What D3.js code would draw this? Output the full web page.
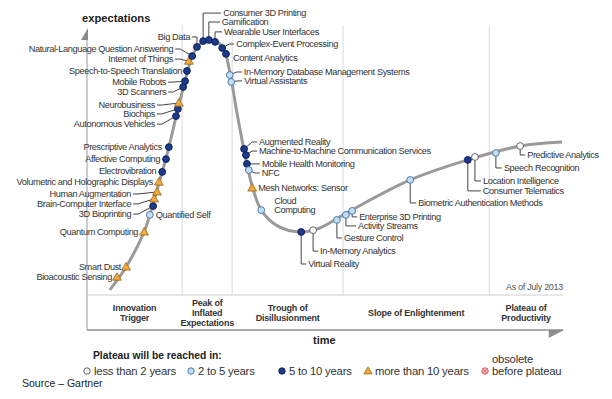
<!DOCTYPE html>
<html>
<head>
<meta charset="utf-8">
<script src="https://cdn.jsdelivr.net/npm/d3@7"></script>
<style>
  body { margin: 0; background: #fff; }
  svg { display: block; font-family: "Liberation Sans", Arial, sans-serif; }
</style>
</head>
<body>
<div class="chart"></div>
<script>
const width = 612;
const height = 399;

// hype curve (time 0-100, expectations 0-100)
const curveT = [4.8, 8.2, 12.0, 14.1, 15.8, 17.2, 19.1, 20.6, 22.1, 23.7, 25.6, 27.3, 28.8, 30.0, 31.7, 33.2, 34.7, 36.6, 40.1, 45.0, 48.9, 55.3, 67.9, 80.0, 91.0, 99.8];
const curveE = [1.9, 10.5, 23.6, 35.6, 46.1, 55.4, 69.7, 80.1, 89.5, 94.0, 95.5, 94.8, 91.8, 83.5, 66.3, 52.4, 40.8, 31.8, 25.8, 23.6, 25.1, 31.5, 43.1, 50.6, 55.8, 57.3];

const names = [
  'Bioacoustic Sensing', 'Smart Dust', 'Quantum Computing', 'Quantified Self', '3D Bioprinting',
  'Brain-Computer Interface', 'Human Augmentation', 'Volumetric and Holographic Displays', 'Electrovibration',
  'Affective Computing', 'Prescriptive Analytics', 'Autonomous Vehicles', 'Biochips', 'Neurobusiness',
  '3D Scanners', 'Mobile Robots', 'Speech-to-Speech Translation', 'Internet of Things',
  'Natural-Language Question Answering', 'Big Data', 'Consumer 3D Printing', 'Gamification',
  'Wearable User Interfaces', 'Complex-Event Processing', 'Content Analytics',
  'In-Memory Database Management Systems', 'Virtual Assistants', 'Augmented Reality',
  'Machine-to-Machine Communication Services', 'Mobile Health Monitoring', 'NFC', 'Mesh Networks: Sensor',
  'Cloud|Computing', 'Virtual Reality', 'In-Memory Analytics', 'Gesture Control', 'Activity Streams',
  'Enterprise 3D Printing', 'Biometric Authentication Methods', 'Consumer Telematics',
  'Location Intelligence', 'Speech Recognition', 'Predictive Analytics'
];
const timePos = [6.3, 8.2, 12.0, 13.2, 13.9, 14.1, 14.7, 15.1, 15.8, 16.6, 17.2, 18.7, 19.1, 19.3, 20.2, 20.6, 21.0, 21.4, 22.1, 23.1, 24.4, 25.6, 26.9, 28.4, 29.2, 30.0, 30.3, 33.0, 33.4, 33.6, 34.0, 34.7, 36.6, 45.0, 47.5, 52.5, 54.4, 55.7, 67.9, 80.0, 81.5, 85.9, 91.0];
const expectation = [6.7, 10.5, 23.6, 30.0, 33.3, 36.0, 38.6, 42.3, 46.1, 50.9, 55.4, 67.0, 69.7, 71.9, 77.9, 80.1, 83.9, 87.6, 89.5, 92.9, 95.1, 95.5, 94.8, 92.5, 90.3, 82.4, 79.8, 54.7, 52.4, 49.1, 46.8, 40.1, 31.8, 23.6, 24.3, 28.1, 30.0, 31.5, 43.1, 50.6, 51.7, 53.2, 55.8];
const horizon = ['gt10', 'gt10', 'gt10', '2to5', '5to10', 'gt10', 'gt10', 'gt10', '5to10', '5to10', '5to10', '5to10', '5to10', 'gt10', '5to10', '5to10', '5to10', 'gt10', '5to10', '5to10', '5to10', '5to10', '5to10', '5to10', '5to10', '2to5', '2to5', '5to10', '5to10', '5to10', '2to5', 'gt10', '2to5', '5to10', 'lt2', '2to5', '2to5', '2to5', '2to5', '5to10', 'lt2', '2to5', 'lt2'];

const phaseBounds = [20.0, 30.5, 53.8, 84.5];
const phaseNames = ['Innovation|Trigger', 'Peak of|Inflated|Expectations', 'Trough of|Disillusionment', 'Slope of Enlightenment', 'Plateau of|Productivity'];

const legendKeys = ['lt2', '2to5', '5to10', 'gt10', 'obs'];
const legendLabels = ['less than 2 years', '2 to 5 years', '5 to 10 years', 'more than 10 years', 'obsolete|before plateau'];

// label placement: dx, dy from the marker, anchor, leader kind
const labelLayout = [
  [-5, 0, 'end', 'none'], [-5, 0, 'end', 'none'], [-6, 0, 'end', 'none'], [6, 0, 'start', 'none'],
  [-22, 8, 'end', 'line'], [-23, 5, 'end', 'line'], [-26, 2, 'end', 'line'], [-6, 0, 'end', 'none'],
  [-6, -1, 'end', 'none'], [-6, 0, 'end', 'none'], [-7, 0, 'end', 'none'], [-21, 8, 'end', 'line'],
  [-23, 5, 'end', 'line'], [-24, 2, 'end', 'line'], [-17, 5, 'end', 'line'], [-19, 1, 'end', 'line'],
  [-5, 0, 'end', 'none'], [-16, -2, 'end', 'line'], [-19, -7, 'end', 'line'], [-7, -10, 'end', 'line'],
  [20, -28, 'start', 'up'], [13, -18, 'start', 'up'], [9, -10, 'start', 'up'], [14, -4, 'start', 'line'],
  [7, 4, 'start', 'none'], [14, -3, 'start', 'line'], [13, -1, 'start', 'line'], [15, -7, 'start', 'line'],
  [13, -4, 'start', 'line'], [15, 0, 'start', 'line'], [13, 3, 'start', 'line'], [6, 0, 'start', 'none'],
  [13, -5, 'start', 'none'], [7, 32, 'start', 'down'], [7, 21, 'start', 'down'], [7, 18, 'start', 'down'],
  [12, 11, 'start', 'down'], [7, 6, 'start', 'down'], [8, 23, 'start', 'down'], [15, 31, 'start', 'down'],
  [8, 24, 'start', 'down'], [8, 15, 'start', 'down'], [7, 9, 'start', 'down']
];

const style = {
  lt2: { fill: '#ffffff', stroke: '#666666' },
  '2to5': { fill: '#c4ddf1', stroke: '#4f7db3' },
  '5to10': { fill: '#1c3a87', stroke: '#0e2260' },
  gt10: { fill: '#f2a83a', stroke: '#96661c' },
  obs: { fill: '#f6c4cc', stroke: '#d8505e' }
};

const x = d3.scaleLinear().domain([0, 100]).range([87, 563]);
const y = d3.scaleLinear().domain([0, 100]).range([295, 28]);

const svg = d3
  .select('.chart')
  .append('svg')
  .attr('width', width)
  .attr('height', height);

// phase dividers
svg
  .selectAll('.divider')
  .data(phaseBounds)
  .enter()
  .append('line')
  .attr('x1', d => x(d))
  .attr('x2', d => x(d))
  .attr('y1', y(101))
  .attr('y2', y(0))
  .attr('stroke', '#dcdcdc')
  .attr('stroke-width', 1);

// axes
svg.append('line')
  .attr('x1', x(0)).attr('x2', x(0))
  .attr('y1', y(96)).attr('y2', y(0) + 35)
  .attr('stroke', '#bdbdbd').attr('stroke-width', 1.5);
svg.append('path')
  .attr('d', `M${x(0) + 1},${y(100)} L${x(0) + 1},${y(95.5)} L${x(0) - 6},${y(95.5)} Z`)
  .attr('fill', '#8c8c8c');
svg.append('line')
  .attr('x1', x(0)).attr('x2', x(100))
  .attr('y1', y(0)).attr('y2', y(0))
  .attr('stroke', '#cfcfcf').attr('stroke-width', 1);
svg.append('line')
  .attr('x1', x(0)).attr('x2', x(100))
  .attr('y1', y(0) + 35).attr('y2', y(0) + 35)
  .attr('stroke', '#ababab').attr('stroke-width', 2);
svg.append('path')
  .attr('d', `M${x(97)},${y(0) + 35} L${x(100) + 1},${y(0) + 35} L${x(97)},${y(0) + 43} Z`)
  .attr('fill', '#8c8c8c');

svg.append('text')
  .attr('x', 82).attr('y', 22)
  .attr('font-size', '11.2px').attr('font-weight', 'bold').attr('fill', '#222')
  .text('expectations');
svg.append('text')
  .attr('x', 313).attr('y', 344)
  .attr('font-size', '11px').attr('font-weight', 'bold').attr('fill', '#222')
  .text('time');
svg.append('text')
  .attr('x', x(100)).attr('y', 290)
  .attr('text-anchor', 'end')
  .attr('font-size', '9px').attr('letter-spacing', '-0.3px').attr('fill', '#555')
  .text('As of July 2013');

// phase names
const bounds = [0].concat(phaseBounds, [100]);
phaseNames.forEach((p, i) => {
  const lines = p.split('|');
  const cx = x((bounds[i] + bounds[i + 1]) / 2);
  const t = svg.append('text')
    .attr('text-anchor', 'middle')
    .attr('font-size', '9px').attr('font-weight', 'bold')
    .attr('letter-spacing', '-0.2px').attr('fill', '#333');
  lines.forEach((l, j) => {
    t.append('tspan')
      .attr('x', cx)
      .attr('y', 316 + (j - (lines.length - 1) / 2) * 10.3)
      .text(l);
  });
});

// hype curve
const line = d3.line()
  .x(d => x(d[0]))
  .y(d => y(d[1]))
  .curve(d3.curveCatmullRom.alpha(0.5));
svg.append('path')
  .datum(curveT.map((t, i) => [t, curveE[i]]))
  .attr('d', line)
  .attr('fill', 'none')
  .attr('stroke', '#9a9a9a')
  .attr('stroke-width', 3);

const techs = names.map((n, i) => ({
  name: n,
  px: x(timePos[i]),
  py: y(expectation[i]),
  kind: horizon[i],
  dx: labelLayout[i][0],
  dy: labelLayout[i][1],
  anchor: labelLayout[i][2],
  leader: labelLayout[i][3]
}));

// leaders
svg
  .selectAll('.leader')
  .data(techs.filter(d => d.leader !== 'none'))
  .enter()
  .append('polyline')
  .attr('fill', 'none')
  .attr('stroke', '#444')
  .attr('stroke-width', 1)
  .attr('points', d => {
    const lx = d.px + d.dx;
    const ly = d.py + d.dy;
    if (d.leader === 'line') {
      const s = d.anchor === 'end' ? 1 : -1;
      return [[lx + 2 * s, ly], [lx + 7 * s, ly], [d.px, d.py]].join(' ');
    }
    return [[d.px, d.py], [d.px, ly], [lx - 2, ly]].join(' ');
  });

function marker(sel, kind, r) {
  const s = style[kind];
  if (kind === 'gt10') {
    const k = r / 3.4;
    sel.append('path')
      .attr('d', `M0,${-4.4 * k} L${4.4 * k},${3.1 * k} L${-4.4 * k},${3.1 * k} Z`)
      .attr('fill', s.fill).attr('stroke', s.stroke).attr('stroke-width', 0.8);
  } else {
    sel.append('circle')
      .attr('r', r)
      .attr('fill', s.fill).attr('stroke', s.stroke).attr('stroke-width', 1);
    if (kind === 'obs') {
      sel.append('path')
        .attr('d', 'M-1.6,-1.6 L1.6,1.6 M-1.6,1.6 L1.6,-1.6')
        .attr('stroke', s.stroke).attr('stroke-width', 0.8);
    }
  }
}

// markers
svg
  .selectAll('.tech')
  .data(techs)
  .enter()
  .append('g')
  .attr('class', 'tech')
  .attr('transform', d => `translate(${d.px},${d.py})`)
  .each(function(d) {
    marker(d3.select(this), d.kind, 3.4);
  });

// labels
svg
  .selectAll('.label')
  .data(techs)
  .enter()
  .append('text')
  .attr('class', 'label')
  .attr('text-anchor', d => d.anchor)
  .attr('font-size', '9.2px')
  .attr('letter-spacing', '-0.38px')
  .attr('fill', '#333')
  .each(function(d) {
    const lines = d.name.split('|');
    lines.forEach((l, j) => {
      d3.select(this).append('tspan')
        .attr('x', d.px + d.dx)
        .attr('y', d.py + d.dy + 3.2 + (j - (lines.length - 1) / 2) * 9)
        .text(l);
    });
  });

// legend
svg.append('text')
  .attr('x', 93).attr('y', 359)
  .attr('font-size', '10.3px').attr('font-weight', 'bold').attr('fill', '#222')
  .text('Plateau will be reached in:');

const legendX = [87, 191, 282, 368, 485];
legendKeys.forEach((k, i) => {
  const g = svg.append('g').attr('transform', `translate(${legendX[i]},371)`);
  marker(g, k, 3.2);
  const lines = legendLabels[i].split('|');
  const t = svg.append('text')
    .attr('font-size', '11.3px').attr('letter-spacing', '-0.2px').attr('fill', '#333');
  lines.forEach((l, j) => {
    t.append('tspan')
      .attr('x', legendX[i] + 7)
      .attr('y', 375 - (lines.length - 1 - j) * 12)
      .text(l);
  });
});

svg.append('text')
  .attr('x', 22).attr('y', 387)
  .attr('font-size', '10.5px').attr('fill', '#222')
  .text('Source \u2013 Gartner');
</script>
</body>
</html>
